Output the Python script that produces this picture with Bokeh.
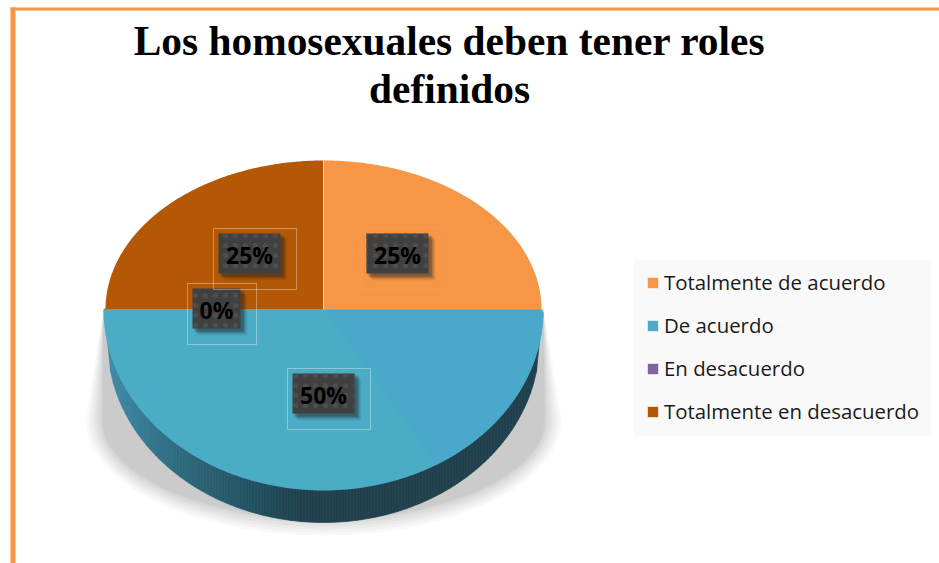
import numpy as np
from bokeh.embed import file_html
from bokeh.resources import INLINE
from bokeh.plotting import figure
from bokeh.models import Range1d, Legend, LegendItem
from bokeh.core.properties import value

categories = ["Totalmente de acuerdo", "De acuerdo", "En desacuerdo", "Totalmente en desacuerdo"]
percentages = [25, 50, 0, 25]
colors = ["#f79646", "#4bacc6", "#8064a2", "#b55805"]
title_lines = ["Los homosexuales deben tener roles", "definidos"]

CX, CY, RX_BACK, RX_FRONT, RY_BACK, RY_FRONT = 323, 309, 218, 220, 149, 181
DEPTH, RX_LOW = 32, 216

p = figure(width=939, height=563, output_backend="svg", toolbar_location=None,
           x_range=Range1d(0, 939), y_range=Range1d(563, 0), min_border=0,
           background_fill_color="white", border_fill_color="white", outline_line_color=None)
p.axis.visible = False
p.grid.visible = False

# page frame
p.quad(left=[10, 10], right=[15, 939], top=[7, 7], bottom=[563, 10], fill_color="#f79646", line_color=None)


def rim(theta):
    rx = np.where(np.cos(theta) > 0, RX_BACK, RX_FRONT)
    ry = np.where(np.cos(theta) > 0, RY_BACK, RY_FRONT)
    return CX + rx * np.sin(theta), CY - ry * np.cos(theta)


# soft drop shadow below the pie
for grow, alpha in [(18, .10), (15, .12), (12, .14), (9, .18), (6, .24), (3, .35), (1, .5)]:
    t = np.linspace(0, np.pi, 80)
    sx = np.r_[CX - RX_FRONT, CX - RX_FRONT - grow, CX - (RX_FRONT + grow) * np.cos(t), CX + RX_FRONT]
    sy = np.r_[CY, CY + 110, CY + 110 + (98 + grow) * np.sin(t), CY]
    p.patch(sx, sy, fill_color="#c4c4c4", fill_alpha=alpha, line_color=None)

# side wall of the pie as narrow strips
xs_wall = np.arange(CX - RX_LOW, CX + RX_LOW, 3.0)
stops_x = [107, 150, 200, 260, 300, 543]
stops_rgb = np.array([[64, 140, 168], [52, 118, 142], [42, 98, 115], [32, 78, 94], [31, 64, 76], [31, 64, 76]])


def top_y(x):
    return CY + RY_FRONT * np.sqrt(np.clip(1 - ((x - CX) / RX_FRONT) ** 2, 0, 1))


def low_y(x):
    return CY + DEPTH + RY_FRONT * np.sqrt(np.clip(1 - ((x - CX) / RX_LOW) ** 2, 0, 1))


for x0 in xs_wall:
    x1 = min(x0 + 3.0, CX + RX_LOW)
    c = [int(np.interp(x0, stops_x, stops_rgb[:, i])) for i in range(3)]
    col = "#%02x%02x%02x" % tuple(c)
    p.patch([x0, x1, x1, x0], [top_y(x0) - 3, top_y(x1) - 3, low_y(x1), low_y(x0)],
            fill_color=col, line_color=col, line_width=0.6)

# slices, driven by the percentages
total = sum(percentages)
cum = 0.0
items = []
for name, val, col in zip(categories, percentages, colors):
    a0 = cum / total * 2 * np.pi
    cum += val
    a1 = cum / total * 2 * np.pi
    t = np.linspace(a0, a1, 160)
    ex, ey = rim(t)
    r = p.patch(np.r_[CX, ex], np.r_[CY, ey], fill_color=col, line_color=None)
    items.append(LegendItem(label=name, renderers=[r]))

# subtle facet of the front face
t = np.linspace(np.pi / 2, 2.6, 60)
fx, fy = rim(t)
p.patch(np.r_[CX, fx], np.r_[CY, fy], fill_color="#4aa7cb", fill_alpha=.85, line_color=None)
p.line([CX, CX], [CY - RY_BACK, CY], line_color="#f8d9bd", line_width=1)

# data labels
label_x = [397, 323, 216, 249]
label_y = [253, 393, 308, 253]
box_w = [62, 62, 48, 62]
frame_alpha = [.05, .35, .35, .35]
for xc, yc, w, val, fa in zip(label_x, label_y, box_w, percentages, frame_alpha):
    l, rr, t_, b = xc - w / 2, xc + w / 2, yc - 20, yc + 20
    p.quad(left=[l - 5], right=[rr + 16], top=[t_ - 5], bottom=[b + 16], fill_color=None,
           line_color="white", line_alpha=fa, line_width=1)
    for off, al in [(7, .06), (6, .09), (5, .12), (4, .16), (3, .22)]:
        p.quad(left=[l + off - 1], right=[rr + off], top=[t_ + off - 1], bottom=[b + off],
               fill_color="#222222", fill_alpha=al, line_color=None)
    p.quad(left=[l], right=[rr], top=[t_], bottom=[b], fill_color="#404040", line_color=None,
           hatch_pattern="dot", hatch_color="#4e4e4e", hatch_scale=10, hatch_weight=1)
    p.text([xc], [yc + 1], text=[f"{val}%"], text_font=value("Open Sans"), text_font_style="bold",
           text_font_size="23px", text_color="black", text_align="center", text_baseline="middle")

# title
p.text([449, 449], [40, 88], text=title_lines, text_font=value("Liberation Serif"), text_font_style="bold",
       text_font_size="41.4px", text_color="black", text_align="center", text_baseline="middle")

# legend panel and legend
p.quad(left=[633], right=[930], top=[259], bottom=[435], fill_color="#f9f9f9", line_color=None)
legend = Legend(items=items, location=(646, 138), orientation="vertical",
                background_fill_alpha=0, border_line_color=None,
                glyph_width=13, glyph_height=13, label_standoff=5, spacing=15, padding=13, margin=0,
                label_text_font="Open Sans", label_text_font_size="20.4px", label_text_color="#1a1a1a",
                label_height=27)
p.add_layout(legend, "center")

open("out.html", "w").write(file_html(p, INLINE))
